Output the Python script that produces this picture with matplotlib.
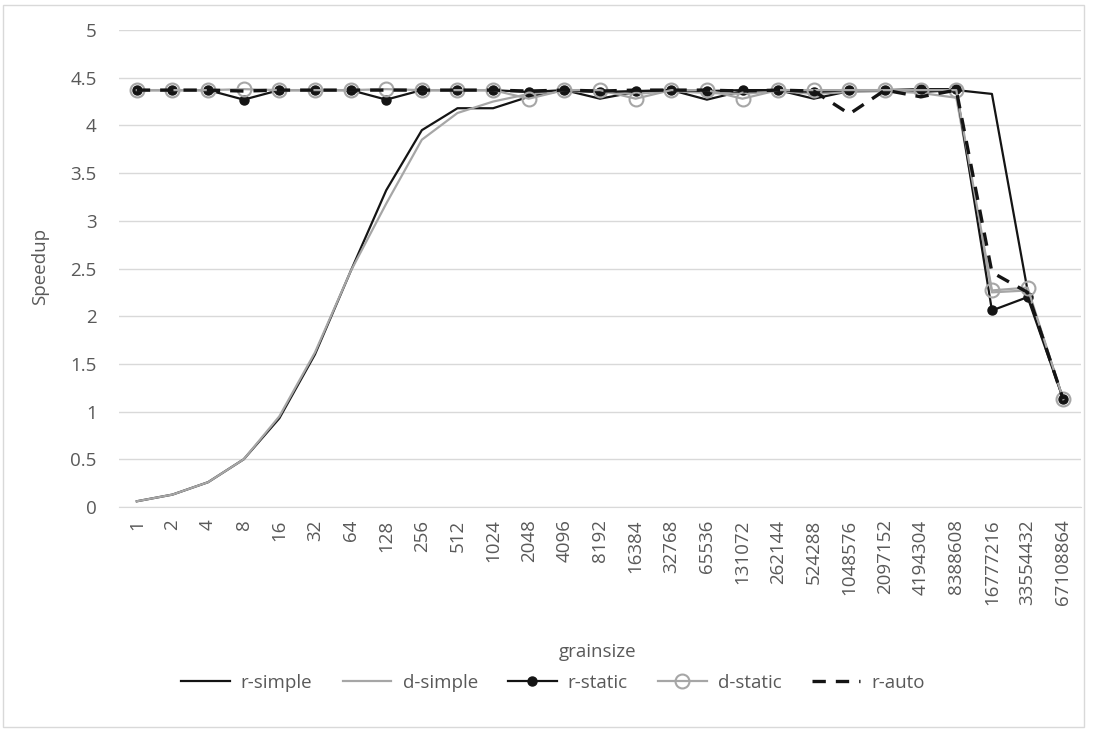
import numpy as np
import matplotlib.pyplot as plt
from matplotlib.patches import Rectangle

plt.rcParams['font.family'] = ['Open Sans', 'DejaVu Sans']

grain = ['1', '2', '4', '8', '16', '32', '64', '128', '256', '512', '1024', '2048',
         '4096', '8192', '16384', '32768', '65536', '131072', '262144', '524288',
         '1048576', '2097152', '4194304', '8388608', '16777216', '33554432', '67108864']

r_simple = [0.06, 0.13, 0.26, 0.50, 0.93, 1.60, 2.47, 3.32, 3.95, 4.18, 4.18, 4.30,
            4.37, 4.28, 4.35, 4.37, 4.27, 4.36, 4.37, 4.28, 4.36, 4.37, 4.35, 4.37,
            4.33, 2.27, 1.13]
d_simple = [0.06, 0.13, 0.26, 0.50, 0.95, 1.62, 2.47, 3.18, 3.85, 4.13, 4.25, 4.33,
            4.36, 4.35, 4.33, 4.36, 4.34, 4.33, 4.36, 4.33, 4.35, 4.36, 4.34, 4.29,
            2.25, 2.27, 1.13]
r_static = [4.37, 4.37, 4.37, 4.27, 4.37, 4.37, 4.37, 4.27, 4.37, 4.37, 4.37, 4.35,
            4.37, 4.35, 4.36, 4.37, 4.36, 4.37, 4.37, 4.35, 4.37, 4.37, 4.38, 4.38,
            2.06, 2.20, 1.13]
d_static = [4.37, 4.37, 4.37, 4.38, 4.37, 4.37, 4.37, 4.38, 4.37, 4.37, 4.37, 4.28,
            4.37, 4.37, 4.28, 4.37, 4.37, 4.28, 4.37, 4.37, 4.37, 4.37, 4.37, 4.37,
            2.27, 2.30, 1.13]
r_auto = [4.37, 4.37, 4.37, 4.36, 4.37, 4.37, 4.37, 4.37, 4.37, 4.37, 4.37, 4.36,
          4.37, 4.36, 4.37, 4.37, 4.37, 4.36, 4.37, 4.36, 4.12, 4.37, 4.30, 4.37,
          2.46, 2.25, 1.13]

black = '#141414'
gray = '#a6a6a6'
txt = '#595959'

fig = plt.figure(figsize=(10.96, 7.32), dpi=100)
ax = fig.add_axes([119/1096, 1-507/732, (1081-119)/1096, (507-30)/732])

x = np.arange(len(grain))
ax.plot(x, r_simple, color=black, lw=1.6, label='r-simple')
ax.plot(x, d_simple, color=gray, lw=1.6, label='d-simple')
ax.plot(x, r_static, color=black, lw=1.6, marker='o', ms=6.5, mfc=black, mec=black, label='r-static')
ax.plot(x, d_static, color=gray, lw=1.6, marker='o', ms=10, mfc='none', mec=gray, mew=1.5, label='d-static')
ax.plot(x, r_auto, color=black, lw=2.4, dashes=(4, 3), label='r-auto')

ax.set_xlim(-0.5, len(grain)-0.5)
ax.set_ylim(0, 5)
ax.set_yticks(np.arange(0, 5.01, 0.5))
ax.set_yticklabels(['0', '0.5', '1', '1.5', '2', '2.5', '3', '3.5', '4', '4.5', '5'])
ax.set_xticks(x)
ax.set_xticklabels(grain, rotation=90)
ax.tick_params(axis='both', length=0, labelsize=13.5, labelcolor=txt)
ax.tick_params(axis='y', pad=16)
ax.tick_params(axis='x', pad=9)
ax.grid(axis='y', color='#d9d9d9', lw=1)
ax.set_axisbelow(True)
for s in ['top', 'right', 'left']:
    ax.spines[s].set_visible(False)
ax.spines['bottom'].set_color('#d9d9d9')

fig.text(40/1096, 1-266/732, 'Speedup', rotation=90, ha='center', va='center', fontsize=13.5, color=txt)
fig.text(598/1096, 1-652/732, 'grainsize', ha='center', va='center', fontsize=13.5, color=txt)

leg = fig.legend(loc='center', bbox_to_anchor=(553/1096, 1-683/732), ncol=5, frameon=False,
                 fontsize=13.5, handlelength=2.6, columnspacing=1.6, handletextpad=0.6)
for t in leg.get_texts():
    t.set_color(txt)

fig.patches.append(Rectangle((3/1096, 5/732), 1081/1096, 722/732, transform=fig.transFigure,
                             fill=False, edgecolor='#d9d9d9', lw=1))

fig.savefig('out.png', dpi=100)
